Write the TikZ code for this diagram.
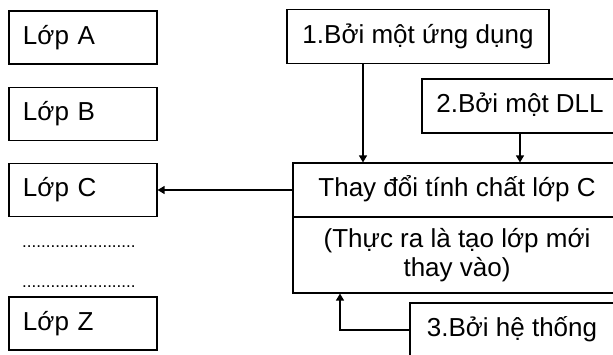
\documentclass[tikz,border=0pt]{standalone}
\usepackage{fontspec}
\setmainfont{Liberation Sans}
\usetikzlibrary{arrows.meta}
\begin{document}
\begin{tikzpicture}[x=1pt,y=-1pt,
  every node/.style={font=\fontsize{26}{29}\selectfont, text height=18pt, text depth=5pt, inner sep=0pt},
  frame/.style={draw=black, line width=1.2pt},
  lbox/.style={frame, minimum width=148pt, minimum height=53pt, text width=120pt, align=left, inner xsep=14pt},
  rbox/.style={frame, minimum height=54pt, align=center},
  arr/.style={line width=1.3pt, -{Triangle[length=7pt,width=8pt]}},
  dots/.style={font=\fontsize{17}{20}\selectfont, anchor=base west, text height=, text depth=}
]
\useasboundingbox (0,0) rectangle (613,354);
\fill[white] (0,0) rectangle (613,354);
\clip (0,0) rectangle (613,354);

% column of classes
\node[lbox] (A) at (83,37.5) {Lớp A};
\node[lbox] (B) at (83,114) {Lớp B};
\node[lbox] (C) at (83,190) {Lớp C};
\node[lbox] (Z) at (83,323.5) {Lớp Z};
\node[dots] (d1) at (22,247) {........................};
\node[dots] (d2) at (22,287) {........................};

% sources of the change
\node[rbox, minimum width=262pt] (s1) at (418,36.5) {1.Bởi một ứng dụng};
\node[rbox, minimum width=196pt] (s2) at (520,106) {2.Bởi một DLL};
\node[rbox, minimum width=204pt] (s3) at (512,330) {3.Bởi hệ thống};

% the change itself
\node[rbox, minimum width=328pt] (T) at (457,190) {Thay đổi tính chất lớp C};
\node[frame, minimum width=328pt, minimum height=76pt, align=center,
      text height=, text depth=] (P) at (457,255) {(Thực ra là tạo lớp mới\\thay vào)};

% connectors
\draw[arr] ([xshift=-55pt]s1.south) -- ([xshift=-55pt]s1.south |- T.north);
\draw[arr] (s2.south) -- (s2.south |- T.north);
\draw[arr] (T.west) -- (C.east);
\draw[arr] (s3.west) -| ([xshift=-117pt]P.south);
\end{tikzpicture}
\end{document}
